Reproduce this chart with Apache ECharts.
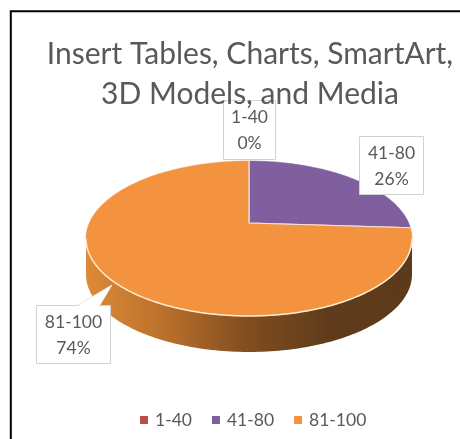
<!DOCTYPE html>
<html><head><meta charset="utf-8">
<style>html,body{margin:0;padding:0;background:#fff}#c{width:460px;height:439px}</style>
<script src="https://cdn.jsdelivr.net/npm/echarts@6/dist/echarts.min.js"></script>
</head><body><div id="c"></div>
<script>
const titleText = 'Insert Tables, Charts, SmartArt,\n3D Models, and Media';
const categories = ['1-40', '41-80', '81-100'];
const values = [0, 26, 74];
const colors = ['#be4b48', '#7f5f9e', '#f39340'];

// layout only
const pie = { cx: 249, cy: 223, a: 159.7, b: 74.4, k: 0.2, depth: 36 };
const boxes = [
  { x: 223, y: 100, w: 52, h: 59 },
  { x: 359, y: 136, w: 64, h: 58 },
  { x: 36, y: 305, w: 74, h: 58, pointer: [[78, 305], [112, 285], [100, 305]] }
];
const total = values.reduce((s, v) => s + v, 0);
const cumulative = [];
values.reduce((s, v, i) => (cumulative[i] = s, s + v), 0);

function project(theta) {
  const X = Math.sin(theta), Y = Math.cos(theta), w = 1 + pie.k * Y;
  return [pie.cx + pie.a * X / w, pie.cy - pie.b * Y / w];
}
function arc(t0, t1) {
  const n = Math.max(2, Math.ceil((t1 - t0) / 0.02)), pts = [];
  for (let i = 0; i <= n; i++) pts.push(project(t0 + (t1 - t0) * i / n));
  return pts;
}
const sideFill = { type: 'linear', x: 86, y: 0, x2: 412, y2: 0, global: true, colorStops: [
  { offset: 0, color: '#dd8a38' }, { offset: 0.25, color: '#b96f2a' },
  { offset: 0.5, color: '#7f4d20' }, { offset: 0.75, color: '#5f3b1b' }, { offset: 1, color: '#5c3a1a' }
] };
const frontStart = Math.acos(-pie.k), frontEnd = 2 * Math.PI - frontStart;

function sliceRenderer(idx) {
  return function (params, api) {
    const value = api.value(0), start = api.value(1);
    if (!value) return { type: 'group', children: [] };
    const t0 = start / total * 2 * Math.PI, t1 = (start + value) / total * 2 * Math.PI;
    const children = [];
    const f0 = Math.max(t0, frontStart), f1 = Math.min(t1, frontEnd);
    if (f1 > f0) {
      const front = arc(f0, f1);
      const lower = front.map(p => [p[0], p[1] + pie.depth]).reverse();
      children.push({ type: 'polygon', shape: { points: front.concat(lower) }, style: { fill: sideFill } });
      children.push({ type: 'polyline', z2: 5, shape: { points: front }, style: { fill: 'none', stroke: '#fdebd3', lineWidth: 1.5 } });
    }
    children.push({
      type: 'polygon', z2: 3,
      shape: { points: [[pie.cx, pie.cy]].concat(arc(t0, t1)) },
      style: { fill: colors[idx], stroke: colors[idx], lineWidth: 0.5 }
    });
    const rim = [project(t0), [pie.cx, pie.cy], project(t1)];
    children.push({ type: 'polyline', z2: 4, shape: { points: rim }, style: { fill: 'none', stroke: '#efe3e6', lineWidth: 1.2 } });
    return { type: 'group', children };
  };
}
function labelRenderer(params, api) {
  const i = params.dataIndex, b = boxes[i];
  const children = [];
  children.push({ type: 'rect', shape: { x: b.x + .5, y: b.y + .5, width: b.w, height: b.h },
    style: { fill: '#fff', stroke: '#d2d2d2', lineWidth: 1 } });
  if (b.pointer) {
    children.push({ type: 'polyline', z2: 2, shape: { points: b.pointer },
      style: { fill: '#fff', stroke: '#e8e8e8', lineWidth: 1 } });
    children.push({ type: 'line', z2: 3, shape: { x1: b.pointer[0][0] + 1, y1: b.y + .5, x2: b.pointer[2][0] - 1, y2: b.y + .5 },
      style: { stroke: '#fff', lineWidth: 1.5 } });
  }
  const mid = b.x + b.w / 2 + .5;
  [[categories[i], 17], [Math.round(api.value(0) / total * 100) + '%', 43]].forEach(([t, dy]) => {
    children.push({ type: 'text', z2: 4, style: { text: t, x: mid, y: b.y + dy, fill: '#595959',
      font: '17.5px Lato', textAlign: 'center', textVerticalAlign: 'middle' } });
  });
  return { type: 'group', children };
}

const series = categories.map((name, i) => ({
  type: 'custom', name, coordinateSystem: 'none', silent: true, animation: false, z: 2 + i,
  itemStyle: { color: colors[i] },
  data: [[values[i], cumulative[i]]],
  renderItem: sliceRenderer(i)
}));
series.push({
  type: 'custom', name: 'labels', coordinateSystem: 'none', silent: true, animation: false, z: 10,
  data: values.map(v => [v]), renderItem: labelRenderer
});

const chart = echarts.init(document.getElementById('c'), null, { renderer: 'canvas' });
chart.setOption({
  animation: false,
  backgroundColor: '#fff',
  title: { text: titleText, left: 245, top: 29, textAlign: 'center', z: 20,
    textStyle: { fontFamily: 'Lato', fontSize: 30, fontWeight: 'normal', color: '#595959', lineHeight: 40 } },
  legend: { data: categories, left: 140, top: 411, padding: 0, icon: 'rect', itemWidth: 8, itemHeight: 8, itemGap: 20,
    textStyle: { fontFamily: 'Lato', fontSize: 17.5, color: '#595959', padding: [0, 0, 0, 2] } },
  graphic: [
    { type: 'polyline', shape: { points: [[10.8, 439], [10.8, 11.2], [460, 11.2]] }, style: { fill: 'none', stroke: '#000', lineWidth: 2 }, silent: true }
  ],
  series
});
</script></body></html>
